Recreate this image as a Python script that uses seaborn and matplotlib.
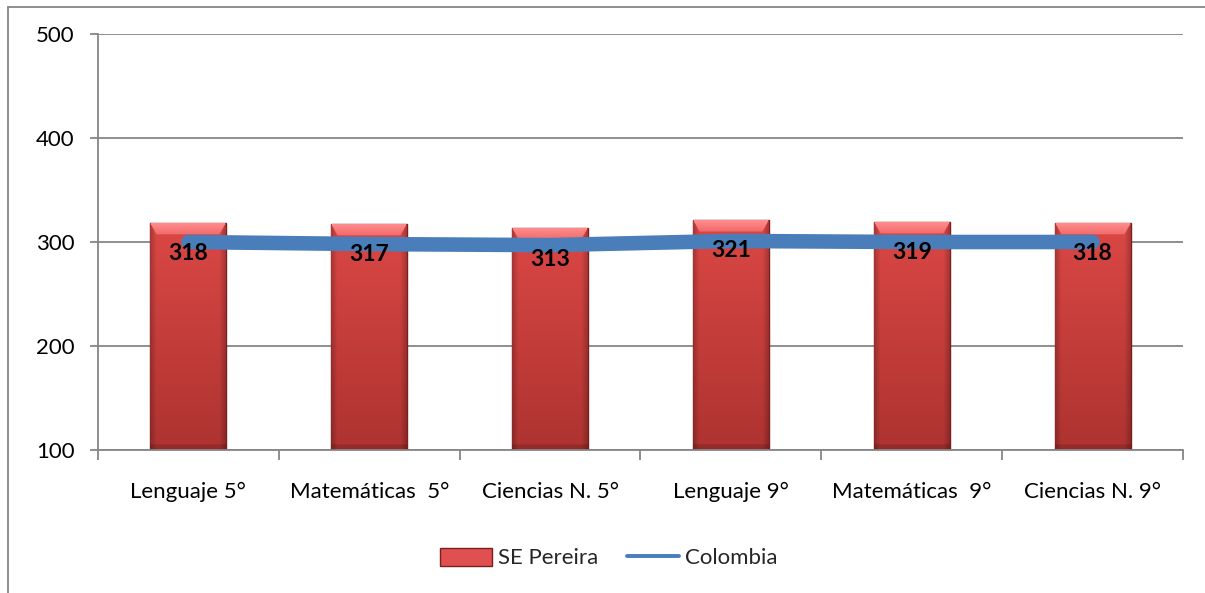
import numpy as np
import pandas as pd
import matplotlib
matplotlib.use("Agg")
import matplotlib.pyplot as plt
import seaborn as sns
from matplotlib.patches import Patch
from matplotlib.lines import Line2D

categories = ["Lenguaje 5°", "Matemáticas  5°", "Ciencias N. 5°",
              "Lenguaje 9°", "Matemáticas  9°", "Ciencias N. 9°"]
pereira = [318, 317, 313, 321, 319, 318]
colombia = [300, 298, 297, 301, 300, 300]
yticks = [100, 200, 300, 400, 500]

sns.set_theme(style="white")
plt.rcParams["font.family"] = ["Lato", "DejaVu Sans"]

fig = plt.figure(figsize=(12.05, 5.93), dpi=100)
ax = fig.add_axes([98 / 1205, 1 - 450 / 593, (1183 - 98) / 1205, (450 - 34) / 593])

df = pd.DataFrame({"cat": categories, "val": pereira})
sns.barplot(data=df, x="cat", y="val", ax=ax, color="#D84340", width=0.42,
            edgecolor="#7A1E1E", linewidth=1.0, zorder=2)

ymin, ymax = 100, 500
ax.set_ylim(ymin, ymax)

# bevel/gradient effect on each bar
def bevel_image(h_frac_top):
    H, W = 400, 80
    yy = np.linspace(0, 1, H)[:, None]  # 0 top -> 1 bottom
    xx = np.linspace(0, 1, W)[None, :]
    top = np.array([0.86, 0.28, 0.27])
    bot = np.array([0.68, 0.20, 0.19])
    img = top[None, None, :] * (1 - yy[..., None]) + bot[None, None, :] * yy[..., None]
    img = np.broadcast_to(img, (H, W, 3)).copy()
    edge = np.minimum(xx, 1 - xx)
    side = np.clip(edge / 0.08, 0, 1)
    img *= (0.78 + 0.22 * side)[..., None]
    # top highlight band (trapezoid) with gradient
    t = yy / h_frac_top
    band = (yy < h_frac_top) & (xx > 0.08 * t) & (xx < 1 - 0.08 * t)
    hl_top = np.array([1.0, 0.55, 0.55])
    hl_bot = np.array([0.95, 0.42, 0.42])
    tt = np.broadcast_to(t, (H, W))
    for c in range(3):
        ch = img[..., c]
        ch[band] = (hl_top[c] * (1 - tt) + hl_bot[c] * tt)[band]
    bband = np.broadcast_to(yy > 1 - 0.025, (H, W))
    img[bband] *= 0.85
    return np.clip(img, 0, 1)

for p in ax.patches:
    x0 = p.get_x()
    w = p.get_width()
    h = p.get_height()
    pix_per_unit = 416 / (ymax - ymin)
    frac = 11 / ((h - ymin) * pix_per_unit)
    im = ax.imshow(bevel_image(frac), extent=[x0, x0 + w, ymin, h], aspect="auto",
                   zorder=2.1, interpolation="bilinear")
    im.set_clip_path(p)

ax.set_xlim(-0.5, len(categories) - 0.5)

# Colombia line
sns.lineplot(x=np.arange(len(categories)), y=colombia, ax=ax, color="#4A7EBB",
             linewidth=10.5, zorder=3, legend=False)
for ln in ax.lines:
    ln.set_solid_capstyle("round")

# labels
for i, v in enumerate(pereira):
    ax.annotate(str(v), (i, v), xytext=(0, -22), textcoords="offset points",
                ha="center", va="center", fontsize=16.5, fontweight="bold",
                color="black", zorder=5)

# grid & axes styling
ax.set_yticks(yticks)
ax.yaxis.grid(True, color="#868686", linewidth=1.3, zorder=0)
ax.set_axisbelow(True)
for s in ["top", "right"]:
    ax.spines[s].set_visible(False)
for s in ["left", "bottom"]:
    ax.spines[s].set_color("#868686")
    ax.spines[s].set_linewidth(1.3)

ax.set_xlabel("")
ax.set_ylabel("")
ax.tick_params(axis="y", which="major", direction="out", length=6, width=1.3,
               color="#868686", pad=11, labelsize=16, left=True)
ax.set_xticks(np.arange(len(categories)))
ax.set_xticklabels(categories)
ax.tick_params(axis="x", which="major", length=0, pad=23, labelsize=16)
ax.set_xticks(np.arange(-0.5, len(categories), 1.0), minor=True)
ax.tick_params(axis="x", which="minor", direction="out", length=7, width=1.3,
               color="#868686", bottom=True)
for lab in ax.get_xticklabels() + ax.get_yticklabels():
    lab.set_color("black")

# legend
handles = [Patch(facecolor="#E05050", edgecolor="#7A1E1E", label="SE Pereira"),
           Line2D([0], [0], color="#4A7EBB", linewidth=2.8, label="Colombia",
                  solid_capstyle="round")]
fig.legend(handles=handles, loc="center", bbox_to_anchor=(0.505, 1 - 558 / 593),
           ncol=2, frameon=False, fontsize=16, handlelength=2.35, handleheight=0.9,
           handletextpad=0.25, columnspacing=1.3)

# outer chart border (left and top visible)
fig.add_artist(Line2D([8 / 1205, 8 / 1205], [0, 1 - 7 / 593], color="#868686",
                      linewidth=1.3, transform=fig.transFigure))
fig.add_artist(Line2D([8 / 1205, 1], [1 - 7 / 593, 1 - 7 / 593], color="#868686",
                      linewidth=1.3, transform=fig.transFigure))

fig.savefig("out.png", dpi=100)
